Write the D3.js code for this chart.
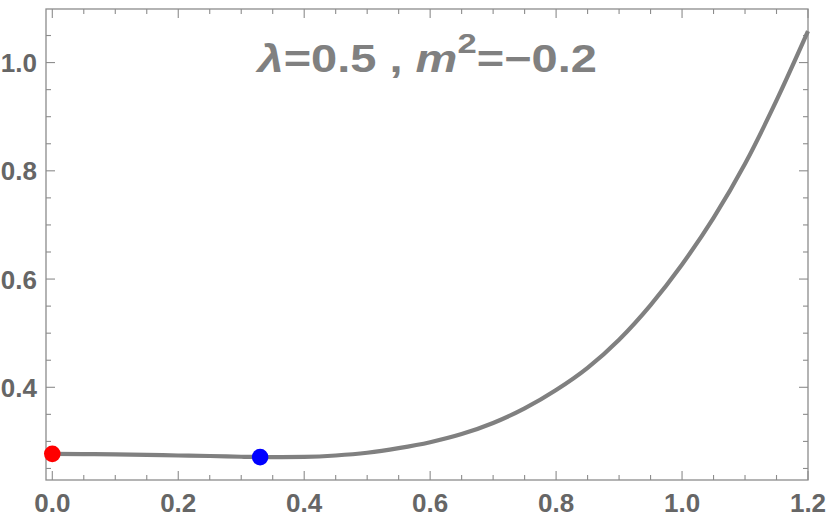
<!DOCTYPE html>
<html>
<head>
<meta charset="utf-8">
<script src="https://cdn.jsdelivr.net/npm/d3@7"></script>
<style>
  html, body { margin: 0; padding: 0; background: #fff; }
  svg { display: block; }
</style>
</head>
<body>
<svg id="chart" width="830" height="521"></svg>
<script>
// ---- data ----
const xValues = [0.00, 0.05, 0.10, 0.15, 0.20, 0.25, 0.30, 0.35, 0.40, 0.45, 0.50, 0.55, 0.60,
                 0.65, 0.70, 0.75, 0.80, 0.85, 0.90, 0.95, 1.00, 1.05, 1.10, 1.15, 1.20];
const yValues = [0.277, 0.2765, 0.276, 0.275, 0.274, 0.273, 0.2717, 0.271, 0.2715, 0.274, 0.279, 0.2875, 0.2985,
                 0.3135, 0.334, 0.361, 0.395, 0.436, 0.488, 0.552, 0.627, 0.713, 0.813, 0.930, 1.058];
const markerX = [0.0, 0.33];
const markerY = [0.277, 0.271];
const markerColors = ["#ff0000", "#0000ff"];
const xTickLabels = ["0.0", "0.2", "0.4", "0.6", "0.8", "1.0", "1.2"];
const yTickLabels = ["0.4", "0.6", "0.8", "1.0"];

// ---- layout ----
const svg = d3.select("#chart");
const mLeft = 46, mRight = 808, mTop = 9, mBottom = 480;
const x = d3.scaleLinear().domain([-0.01, 1.2]).range([mLeft, mRight]);
const y = d3.scaleLinear().domain([0.2287, 1.099]).range([mBottom, mTop]);

const frameColor = "#8c8c8c";
const labelColor = "#666666";

// frame
svg.append("rect")
  .attr("x", mLeft).attr("y", mTop)
  .attr("width", mRight - mLeft).attr("height", mBottom - mTop)
  .attr("fill", "none").attr("stroke", frameColor).attr("stroke-width", 1.3);

// ticks
const xMajor = xTickLabels.map(Number);
const yMajor = yTickLabels.map(Number);
const xMinor = d3.range(0, 1.2001, 0.05).filter(v => !xMajor.some(m => Math.abs(m - v) < 1e-6));
const yMinor = d3.range(0.25, 1.0501, 0.05).filter(v => !yMajor.some(m => Math.abs(m - v) < 1e-6));

const tickG = svg.append("g").attr("stroke", frameColor).attr("stroke-width", 1.1);
function xTicks(vals, len) {
  vals.forEach(v => {
    const px = x(v);
    tickG.append("line").attr("x1", px).attr("x2", px).attr("y1", mBottom).attr("y2", mBottom - len);
    tickG.append("line").attr("x1", px).attr("x2", px).attr("y1", mTop).attr("y2", mTop + len);
  });
}
function yTicks(vals, len) {
  vals.forEach(v => {
    const py = y(v);
    tickG.append("line").attr("x1", mLeft).attr("x2", mLeft + len).attr("y1", py).attr("y2", py);
    tickG.append("line").attr("x1", mRight).attr("x2", mRight - len).attr("y1", py).attr("y2", py);
  });
}
xTicks(xMajor, 9); xTicks(xMinor, 5);
yTicks(yMajor, 9); yTicks(yMinor, 5);

// tick labels
const fontFam = "'Liberation Sans', Arial, sans-serif";
svg.append("g").selectAll("text").data(xTickLabels).join("text")
  .attr("x", d => x(+d)).attr("y", 512)
  .attr("text-anchor", "middle")
  .attr("font-family", fontFam).attr("font-weight", "bold").attr("font-size", 26)
  .attr("fill", labelColor).text(d => d);
svg.append("g").selectAll("text").data(yTickLabels).join("text")
  .attr("x", 37).attr("y", d => y(+d) + 9.5)
  .attr("text-anchor", "end")
  .attr("font-family", fontFam).attr("font-weight", "bold").attr("font-size", 26)
  .attr("fill", labelColor).text(d => d);

// curve
const data = xValues.map((v, i) => [v, yValues[i]]);
const line = d3.line().x(d => x(d[0])).y(d => y(d[1])).curve(d3.curveMonotoneX);
svg.append("path").datum(data)
  .attr("d", line)
  .attr("fill", "none").attr("stroke", "#808080").attr("stroke-width", 4.2);

// markers
svg.append("g").selectAll("circle").data(markerX).join("circle")
  .attr("cx", d => x(d)).attr("cy", (d, i) => y(markerY[i]))
  .attr("r", 8.3).attr("fill", (d, i) => markerColors[i]);

// title (stretched horizontally to match the reference's wide lettering)
const titleG = svg.append("g");
const title = titleG.append("text")
  .attr("x", 0).attr("y", 0)
  .attr("text-anchor", "start")
  .attr("font-family", fontFam).attr("font-weight", "bold").attr("font-size", 38)
  .attr("fill", "#808080");
title.append("tspan").attr("font-style", "italic").text("λ");
title.append("tspan").text("=0.5 , ");
title.append("tspan").attr("font-style", "italic").text("m");
title.append("tspan").attr("font-size", 28).attr("dy", -19).text("2");
title.append("tspan").attr("dy", 19).text("=−0.2");
const bb = title.node().getBBox();
const targetW = 342, targetCx = 426;
const sx = targetW / bb.width;
titleG.attr("transform", `translate(${targetCx - (bb.x + bb.width / 2) * sx},72) scale(${sx},1)`);
</script>
</body>
</html>
